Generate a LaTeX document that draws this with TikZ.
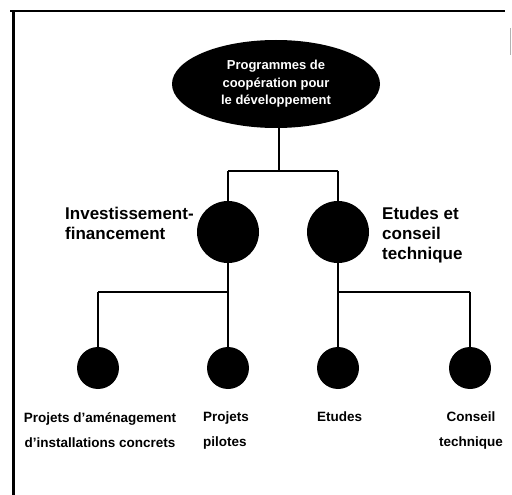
\documentclass[tikz,border=0pt]{standalone}
\usepackage{fontspec}
\setmainfont{Liberation Sans}
\usetikzlibrary{shapes.geometric}
\begin{document}
\begin{tikzpicture}[x=1pt,y=-1pt,
  frame/.style={line width=1.6pt},
  stem/.style={line width=2.6pt},
  bar/.style={line width=1.6pt},
  topnode/.style={ellipse,fill=black,minimum width=208pt,minimum height=88pt,inner sep=0pt,
    text=white,font=\bfseries\fontsize{13}{17.5}\selectfont,align=center},
  midnode/.style={circle,fill=black,minimum size=62pt,inner sep=0pt},
  leafnode/.style={circle,fill=black,minimum size=42pt,inner sep=0pt},
  midlbl/.style={font=\bfseries\fontsize{17}{20}\selectfont,inner sep=0pt,align=left},
  leaflbl/.style={font=\bfseries\fontsize{13.5}{25}\selectfont,inner sep=0pt}
]
\useasboundingbox (0,0) rectangle (512,495);
% outer frame
\draw[frame] (10,11) -- (505,11);
\draw[line width=3pt] (13,11) -- (13,495);
\draw[gray!60,line width=1pt] (510,28) -- (510,55);

% nodes
\node[topnode] (root) at (276,84) {Programmes de\\coopération pour\\le développement};
\node[midnode] (inv) at (228,232) {};
\node[midnode] (etu) at (338,232) {};
\node[leafnode] (l1) at (98,368) {};
\node[leafnode] (l2) at (228,368) {};
\node[leafnode] (l3) at (338,368) {};
\node[leafnode] (l4) at (470,368) {};

% junction points
\coordinate (j0) at (279,171);
\coordinate (jL) at (228,171);
\coordinate (jR) at (338,171);
\coordinate (kL) at (98,292);
\coordinate (kLc) at (228,292);
\coordinate (kRc) at (338,292);
\coordinate (kR) at (470,292);

% connectors
\draw[stem] (root.south -| j0) -- (j0);
\draw[bar] (jL) -- (jR);
\draw[stem] (jL) -- (inv.north);
\draw[stem] (jR) -- (etu.north);
\draw[stem] (inv.south) -- (l2.north);
\draw[stem] (etu.south) -- (l3.north);
\draw[bar] (kL) -- (kLc);
\draw[bar] (kRc) -- (kR);
\draw[stem] (kL) -- (l1.north);
\draw[stem] (kR) -- (l4.north);

% labels
\node[midlbl,anchor=north west] (tinv) at (65,207) {Investissement-\\financement};
\node[midlbl,anchor=north west] (tetu) at (382,207) {Etudes et\\conseil\\technique};
\node[leaflbl,anchor=north,align=center] (t1) at (100,412) {Projets d'aménagement\\d'installations concrets};
\node[leaflbl,anchor=north west,align=left] (t2) at (203,412) {Projets\\pilotes};
\node[leaflbl,anchor=north west,align=left] (t3) at (317,412) {Etudes};
\node[leaflbl,anchor=north,align=center] (t4) at (471,412) {Conseil\\technique};
\end{tikzpicture}
\end{document}
